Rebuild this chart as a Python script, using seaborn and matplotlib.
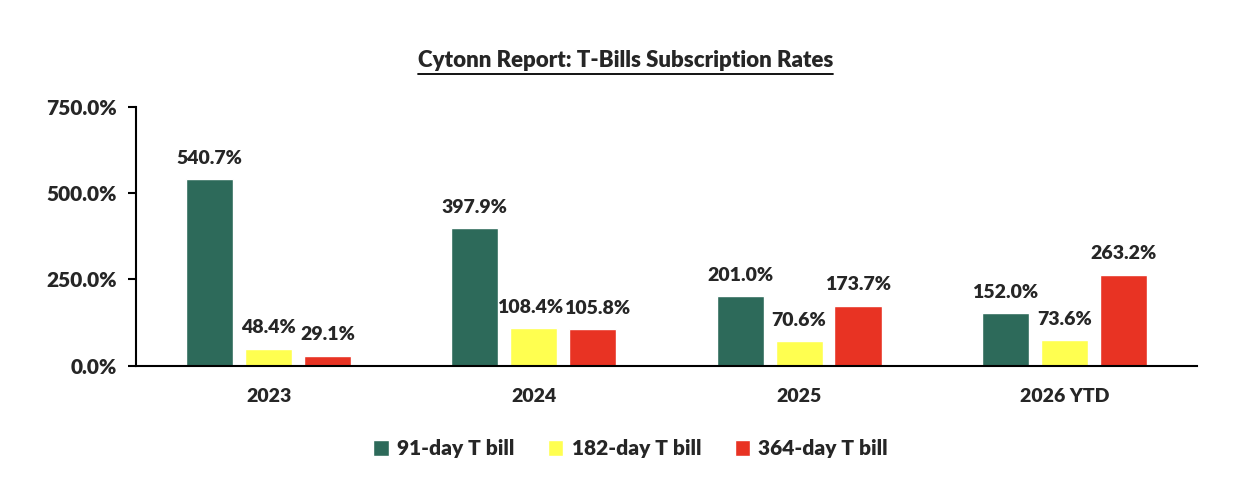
import pandas as pd
import matplotlib.pyplot as plt
import seaborn as sns
from matplotlib.patches import Patch
from matplotlib.ticker import FuncFormatter

sns.set_style("white")
plt.rcParams['font.family'] = ['Lato', 'DejaVu Sans']
plt.rcParams['font.weight'] = 'heavy'

# Data
years = ["2023", "2024", "2025", "2026 YTD"]
series = ["91-day T bill", "182-day T bill", "364-day T bill"]
bill_91 = [540.7, 397.9, 201.0, 152.0]
bill_182 = [48.4, 108.4, 70.6, 73.6]
bill_364 = [29.1, 105.8, 173.7, 263.2]
colors = ["#2D6A5A", "#FFFF50", "#E83323"]

df = pd.DataFrame({
    "year": years * 3,
    "series": [series[0]] * 4 + [series[1]] * 4 + [series[2]] * 4,
    "rate": bill_91 + bill_182 + bill_364,
})

W = 'heavy'
fig = plt.figure(figsize=(12.34, 4.9), dpi=100)
ax = fig.add_axes([0.1102, 0.2537, 0.8598, 0.528])

sns.barplot(data=df, x="year", y="rate", hue="series", palette=colors,
            width=0.667, gap=0.2, ax=ax, legend=False, saturation=1)

# value labels
all_labels = []
for cont in ax.containers:
    all_labels.append(ax.bar_label(cont, labels=[f"{v:.1f}%" for v in cont.datavalues],
                                   padding=9, fontsize=14, fontweight=W))
# nudge the two crowded 2024 labels apart a little
all_labels[1][1].xyann = (-3, 9)
all_labels[2][1].xyann = (3, 9)

ax.set_ylim(0, 750)
ax.set_yticks([0, 250, 500, 750])
ax.yaxis.set_major_formatter(FuncFormatter(lambda v, p: f"{v:.1f}%"))
ax.set_xlim(-0.5, 3.5)
ax.set_xlabel("")
ax.set_ylabel("")

for s in ["top", "right"]:
    ax.spines[s].set_visible(False)
for s in ["left", "bottom"]:
    ax.spines[s].set_color("black")
    ax.spines[s].set_linewidth(1.5)

ax.tick_params(axis='y', length=6, width=1.5, color='black', labelsize=15, pad=8, left=True)
ax.tick_params(axis='x', length=0, labelsize=14, pad=16)
for lbl in ax.get_xticklabels() + ax.get_yticklabels():
    lbl.set_fontweight(W)

title = fig.text(0.507, 0.877, "Cytonn Report: T-Bills Subscription Rates",
                 ha='center', va='center', fontsize=16, fontweight=W)
# underline the title
fig.canvas.draw()
bb = title.get_window_extent().transformed(fig.transFigure.inverted())
fig.add_artist(plt.Line2D([bb.x0, bb.x1], [bb.y0 - 0.006, bb.y0 - 0.006], color='black', lw=1.3))

handles = [Patch(facecolor=c, label=s) for c, s in zip(colors, series)]
fig.legend(handles=handles, loc='center', bbox_to_anchor=(0.511, 0.084), ncol=3,
           frameon=False, handlelength=0.75, handleheight=0.75,
           columnspacing=1.6, handletextpad=0.4, prop={'weight': W, 'size': 15})

fig.savefig("out.png", dpi=100)
